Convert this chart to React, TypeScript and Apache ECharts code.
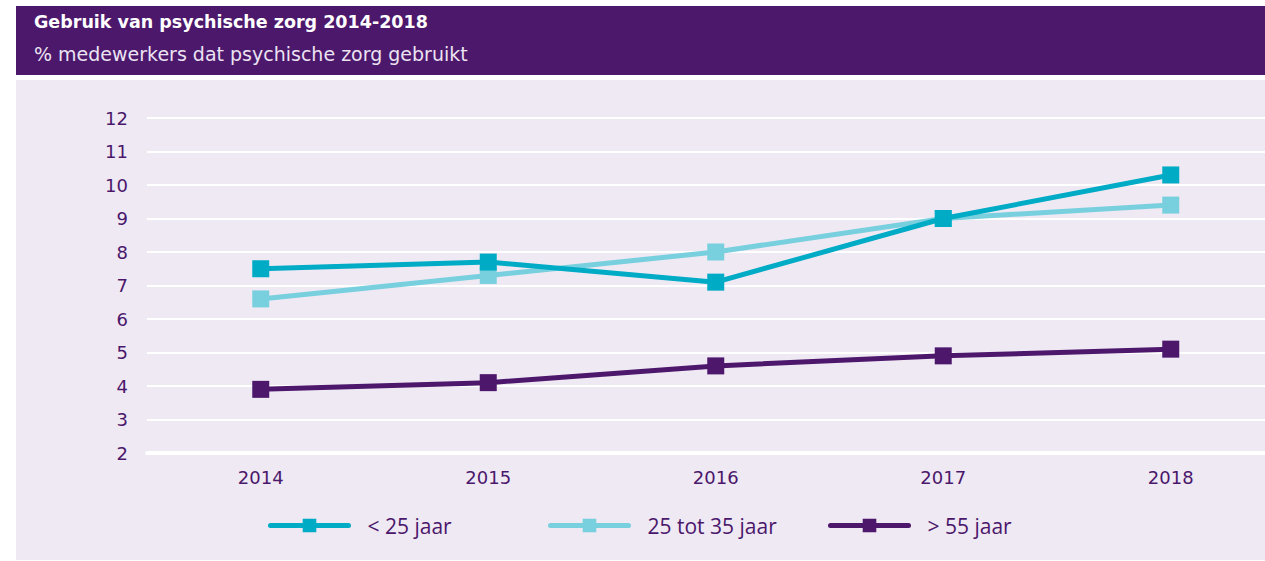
import React, { useEffect, useRef } from "react";
import * as echarts from "echarts";

const years = ["2014", "2015", "2016", "2017", "2018"];
const under25 = [7.5, 7.7, 7.1, 9.0, 10.3];
const age25to35 = [6.6, 7.3, 8.0, 9.0, 9.4];
const over55 = [3.9, 4.1, 4.6, 4.9, 5.1];
const seriesNames = ["< 25 jaar", "25 tot 35 jaar", "> 55 jaar"];
const colors = ["#00abc6", "#78d0de", "#4d176c"];

const PURPLE = "#4b176b";
const BG = "#efe9f4";
const FONT = "'DejaVu Sans', 'Open Sans', sans-serif";
const LEGEND_FONT = "'Liberation Sans Narrow', 'Open Sans', sans-serif";

export default function App() {
  const ref = useRef<HTMLDivElement>(null);
  useEffect(() => {
    if (!ref.current) return;
    const chart = echarts.init(ref.current, undefined, { renderer: "svg" });
    const values = [under25, age25to35, over55];
    const legendLeft = [268, 548, 828];
    chart.setOption({
      animation: false,
      backgroundColor: "#ffffff",
      graphic: [
        { type: "rect", shape: { x: 16, y: 6, width: 1290, height: 69 }, style: { fill: "#4c186c" }, z: -10 },
        { type: "rect", shape: { x: 16, y: 80, width: 1290, height: 480 }, style: { fill: BG }, z: -10 },
        {
          type: "text", x: 34, y: 22,
          style: { text: "Gebruik van psychische zorg 2014-2018", fill: "#ffffff", font: `bold 17.5px ${FONT}`, verticalAlign: "middle" },
        },
        {
          type: "text", x: 34, y: 54,
          style: { text: "% medewerkers dat psychische zorg gebruikt", fill: "#ebe3f2", font: `19px ${FONT}`, verticalAlign: "middle" },
        },
      ],
      grid: { left: 147, width: 1137.5, top: 118, bottom: 108, containLabel: false },
      legend: seriesNames.map((n, i) => ({
        data: [n],
        left: legendLeft[i],
        top: 515,
        itemWidth: 78,
        itemHeight: 17,
        itemGap: 0,
        padding: 0,
        lineStyle: { width: 5, cap: "round" },
        textStyle: { color: PURPLE, fontSize: 21, fontFamily: LEGEND_FONT, padding: [0, 0, 0, 14] },
      })),
      xAxis: {
        type: "category",
        data: years,
        boundaryGap: true,
        axisLine: { show: true, lineStyle: { color: "#ffffff", width: 4 } },
        axisTick: { show: false },
        axisLabel: { color: PURPLE, fontSize: 18, fontFamily: FONT, margin: 15 },
      },
      yAxis: {
        type: "value",
        min: 2,
        max: 12,
        interval: 1,
        axisLine: { show: false },
        axisTick: { show: false },
        axisLabel: { color: PURPLE, fontSize: 18, fontFamily: FONT, margin: 19 },
        splitLine: { lineStyle: { color: "#ffffff", width: 2 } },
      },
      series: seriesNames.map((n, i) => ({
        name: n,
        type: "line",
        data: values[i],
        symbol: "rect",
        symbolSize: 17,
        itemStyle: { color: colors[i] },
        lineStyle: { color: colors[i], width: 5 },
        z: i === 1 ? 2 : i === 0 ? 3 : 1,
      })),
    });
    return () => chart.dispose();
  }, []);
  return (
    <div style={{ position: "fixed", left: 0, top: 0, width: 1265, height: 561, overflow: "hidden" }}>
      <div ref={ref} style={{ width: 1290, height: 561 }} />
    </div>
  );
}
